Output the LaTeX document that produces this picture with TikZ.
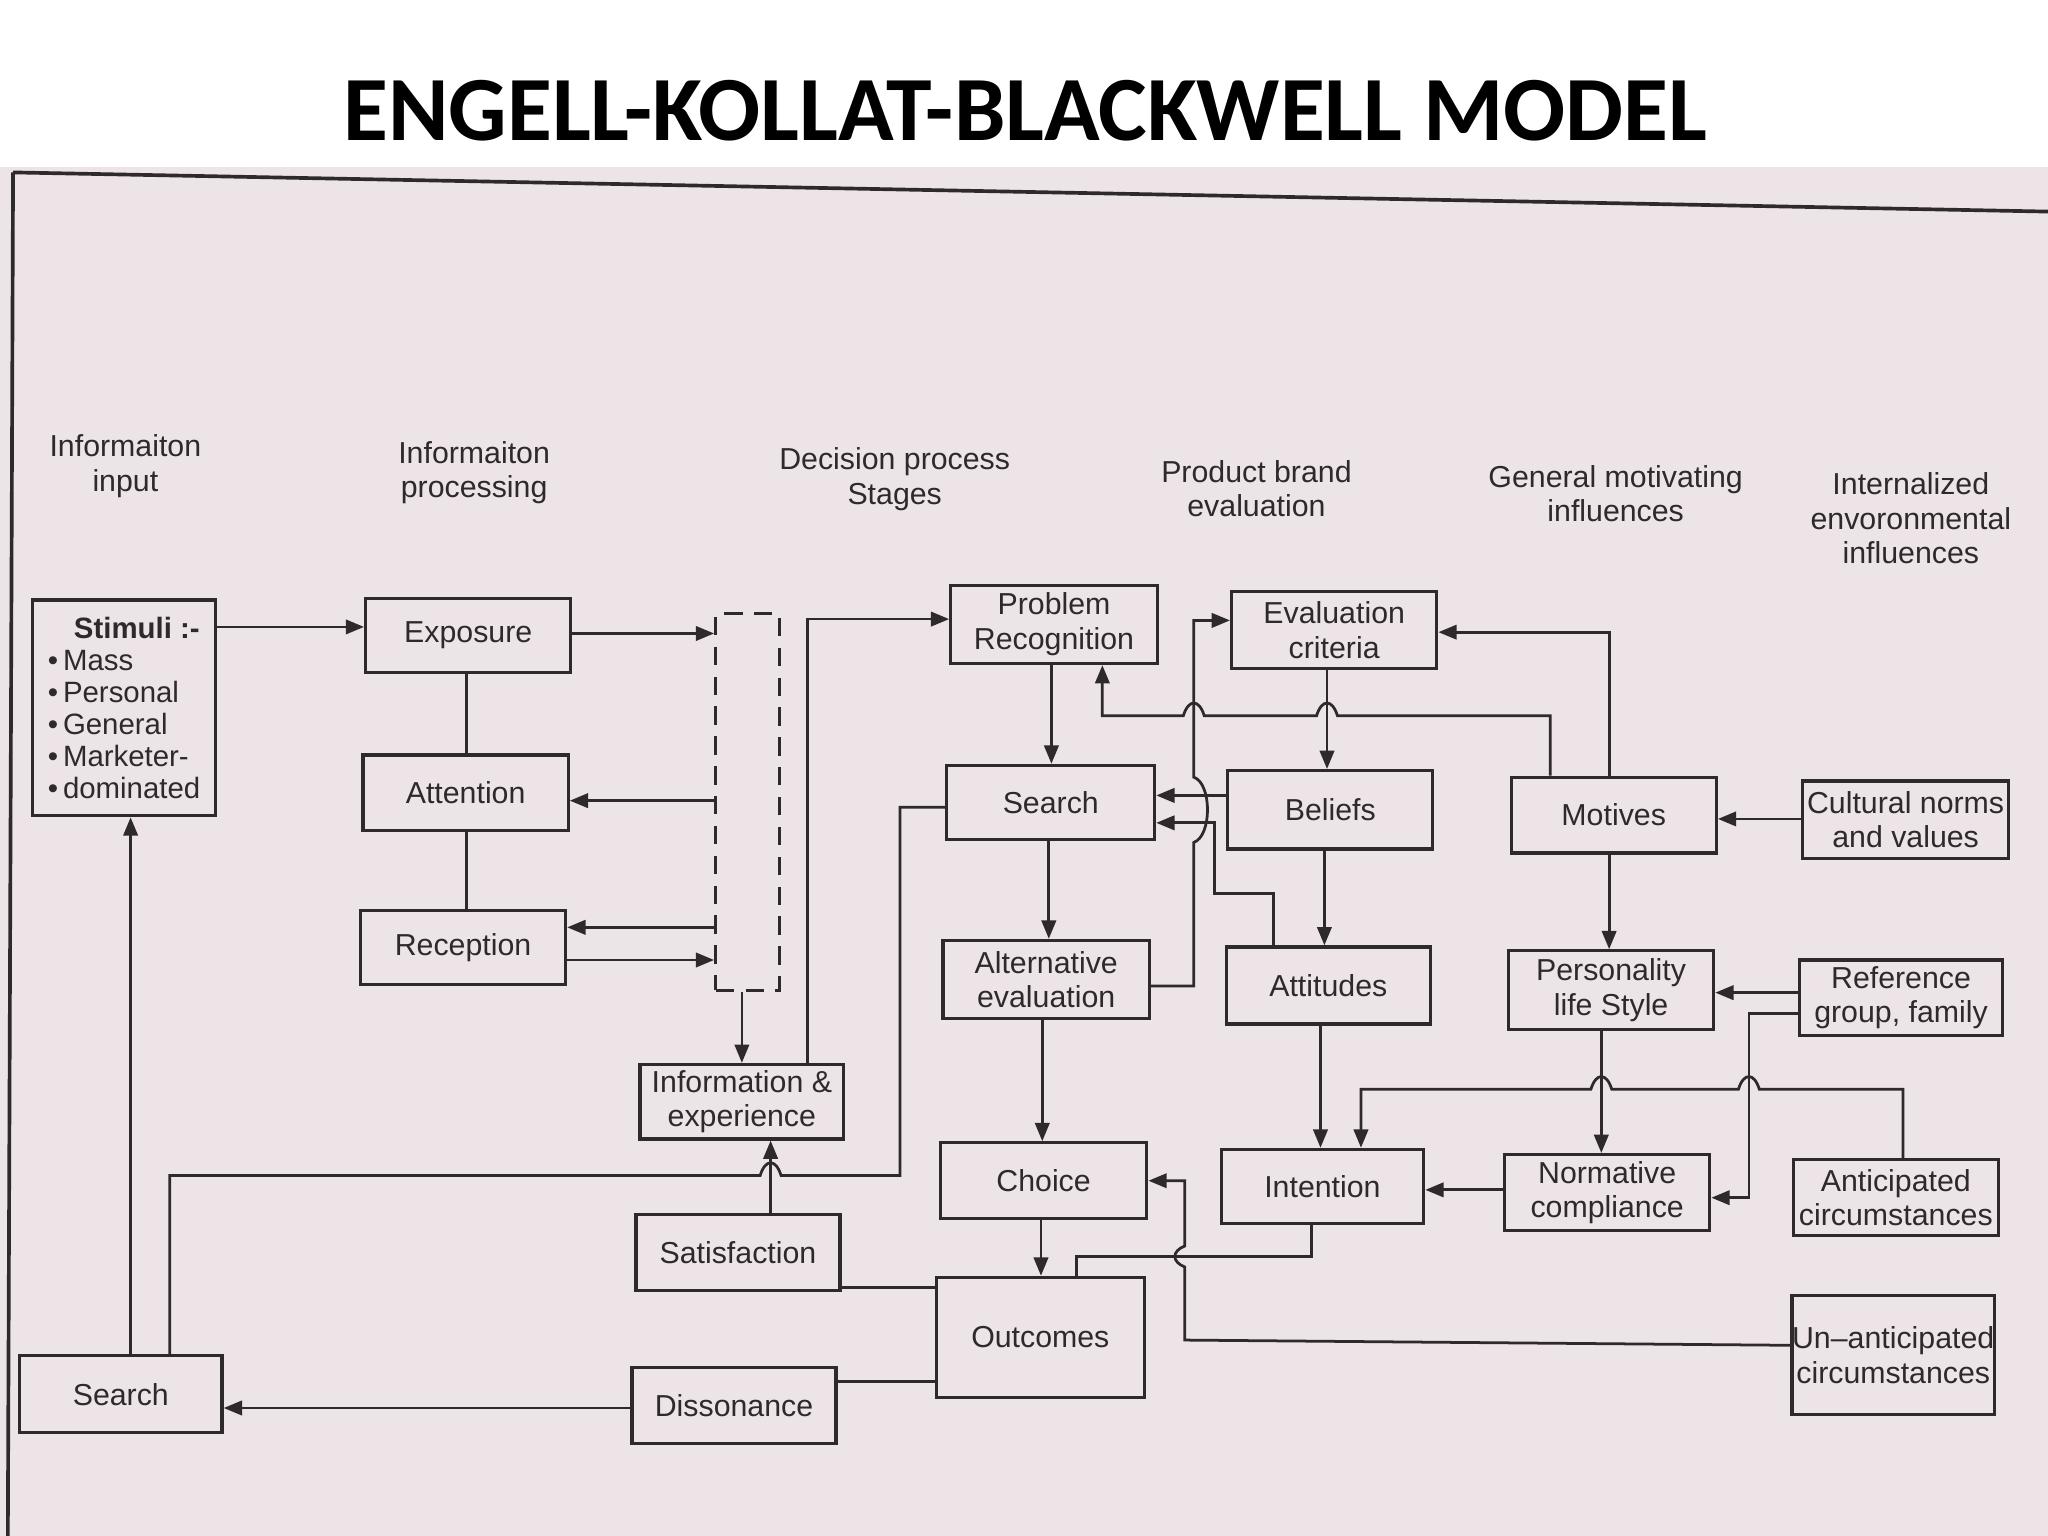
\documentclass[tikz,border=0pt]{standalone}
\usepackage{fontspec}
\setmainfont{Liberation Sans}
\newfontfamily\titlefont{Carlito}
\usetikzlibrary{arrows.meta}
\definecolor{paper}{HTML}{ECE4E7}
\definecolor{ink}{HTML}{2E2A2C}
\begin{document}
\begin{tikzpicture}[x=0.01cm,y=-0.01cm,
  box/.style={draw=ink,line width=0.7pt,inner sep=0pt,align=center,font=\fontsize{6.6}{7.5}\selectfont,text=ink},
  hdr/.style={align=center,font=\fontsize{6.6}{7.5}\selectfont,text=ink},
  con/.style={draw=ink,line width=0.6pt},
  arr/.style={con,-{Triangle[length=1.4mm,width=1.1mm]}}]
\useasboundingbox (0,0) rectangle (1568,1176);
\fill[white] (0,0) rectangle (1568,1176);
\fill[paper] (0,128) rectangle (1568,1176);
\draw[ink,line width=0.8pt] (10,132) -- (1568,162);
\draw[ink,line width=0.8pt] (10,132) -- (6,1176);
\node[font=\titlefont\bfseries\fontsize{20}{24}\selectfont] (title) at (785,85) {ENGELL-KOLLAT-BLACKWELL MODEL};
% headers
\node[hdr] (h1) at (96,357) {Informaiton\\input};
\node[hdr] (h2) at (363,362) {Informaiton\\processing};
\node[hdr] (h3) at (685,367) {Decision process\\Stages};
\node[hdr] (h4) at (962,374) {Product brand\\evaluation};
\node[hdr] (h5) at (1237,378) {General motivating\\influences};
\node[hdr] (h6) at (1463,397) {Internalized\\envoronmental\\influences};
% boxes
\node[box,minimum width=1.40cm,minimum height=1.65cm,align=left,font=\fontsize{6.4}{7.0}\selectfont] (stim) at (95,542) {\hspace*{0.2cm}\textbf{Stimuli :-}\\•\,Mass\\•\,Personal\\•\,General\\•\,Marketer-\\•\,dominated};
\node[box,minimum width=1.57cm,minimum height=0.57cm] (expo) at (358.5,486.5) {Exposure};
\node[box,minimum width=1.57cm,minimum height=0.58cm] (att) at (356.5,607) {Attention};
\node[box,minimum width=1.57cm,minimum height=0.57cm] (rec) at (354.5,725.5) {Reception};
\node[box,dashed,dash pattern=on 4pt off 2.5pt,minimum width=0.49cm,minimum height=2.88cm] (dash) at (572.5,614) {};
\node[box,minimum width=1.58cm,minimum height=0.60cm] (pr) at (807,478) {Problem\\Recognition};
\node[box,minimum width=1.59cm,minimum height=0.57cm] (srch) at (804.5,614.5) {Search};
\node[box,minimum width=1.58cm,minimum height=0.60cm] (alt) at (801,750) {Alternative\\evaluation};
\node[box,minimum width=1.56cm,minimum height=0.57cm] (info) at (568,843.5) {Information \&\\experience};
\node[box,minimum width=1.58cm,minimum height=0.58cm] (choice) at (799,904) {Choice};
\node[box,minimum width=1.56cm,minimum height=0.58cm] (sat) at (565,959) {Satisfaction};
\node[box,minimum width=1.59cm,minimum height=0.92cm] (out) at (796.5,1024) {Outcomes};
\node[box,minimum width=1.56cm,minimum height=0.58cm] (diss) at (562,1076) {Dissonance};
\node[box,minimum width=1.55cm,minimum height=0.59cm] (lsearch) at (92.5,1067.5) {Search};
\node[box,minimum width=1.57cm,minimum height=0.59cm] (eval) at (1021.5,482.5) {Evaluation\\criteria};
\node[box,minimum width=1.57cm,minimum height=0.60cm] (bel) at (1018.5,620) {Beliefs};
\node[box,minimum width=1.56cm,minimum height=0.59cm] (atti) at (1017,754.5) {Attitudes};
\node[box,minimum width=1.55cm,minimum height=0.57cm] (int) at (1012.5,908.5) {Intention};
\node[box,minimum width=1.57cm,minimum height=0.58cm] (mot) at (1235.5,624) {Motives};
\node[box,minimum width=1.57cm,minimum height=0.60cm] (pers) at (1233.5,758) {Personality\\life Style};
\node[box,minimum width=1.57cm,minimum height=0.58cm] (norm) at (1230.5,913) {Normative\\compliance};
\node[box,minimum width=1.58cm,minimum height=0.59cm] (cult) at (1459,627.5) {Cultural norms\\and values};
\node[box,minimum width=1.55cm,minimum height=0.58cm] (ref) at (1455.5,764) {Reference\\group, family};
\node[box,minimum width=1.57cm,minimum height=0.58cm] (ant) at (1451.5,917) {Anticipated\\circumstances};
\node[box,minimum width=1.55cm,minimum height=0.91cm] (unant) at (1449.5,1037.5) {Un--anticipated\\circumstances};
% connectors
\draw[arr] (stim.east|-0,480) -- (expo.west|-0,480);
\draw[arr] (expo.east|-0,485) -- (dash.west|-0,485);
\draw[con] (357,0|-expo.south) -- (357,0|-att.north);
\draw[con] (357,0|-att.south) -- (357,0|-rec.north);
\draw[arr] (dash.west|-0,613) -- (att.east|-0,613);
\draw[arr] (dash.west|-0,710) -- (rec.east|-0,710);
\draw[arr] (rec.east|-0,735) -- (dash.west|-0,735);
\draw[arr] (568,0|-dash.south) -- (568,0|-info.north);
\draw[arr] (618,0|-info.north) -- (618,474) -- (pr.west|-0,474);
\draw[con] (srch.west|-0,618) -- (689,618) -- (689,900) -- (598,900) .. controls (594,887) and (586,887) .. (582,900) -- (130,900) -- (130,0|-lsearch.north);
\draw[arr] (100,0|-lsearch.north) -- (100,0|-stim.south);
\draw[arr] (805,0|-pr.south) -- (805,0|-srch.north);
\draw[arr] (803,0|-srch.south) -- (803,0|-alt.north);
\draw[arr] (798,0|-alt.south) -- (798,0|-choice.north);
\draw[arr] (797,0|-choice.south) -- (797,0|-out.north);
\draw[arr] (590,0|-sat.north) -- (590,0|-info.south);
\draw[con] (sat.east|-0,986) -- (out.west|-0,986);
\draw[con] (diss.east|-0,1058) -- (out.west|-0,1058);
\draw[arr] (diss.west|-0,1078) -- (lsearch.east|-0,1078);
\draw[con] (1004,0|-int.south) -- (1004,962) -- (824,962) -- (824,0|-out.north);
\draw[arr] (unant.west|-0,1030) -- (907,1026) -- (907,970) .. controls (897,966) and (897,958) .. (907,954) -- (907,904) -- (choice.east|-0,904);
\draw[arr] (norm.west|-0,911) -- (int.east|-0,911);
\draw[arr] (bel.west|-0,609) -- (srch.east|-0,609);
\draw[arr] (975,0|-atti.north) -- (975,684) -- (930,684) -- (930,630) -- (srch.east|-0,630);
\draw[arr] (alt.east|-0,755) -- (914,755) -- (914,645) .. controls (928,640) and (928,600) .. (914,595) -- (914,475) -- (eval.west|-0,475);
\draw[arr] (1187,0|-mot.north) -- (1187,548) -- (1024,548) .. controls (1020,535) and (1012,535) .. (1008,548) -- (922,548) .. controls (918,535) and (910,535) .. (906,548) -- (844,548) -- (844,0|-pr.south);
\draw[arr] (1232,0|-mot.north) -- (1232,484) -- (eval.east|-0,484);
\draw[arr] (1016,0|-eval.south) -- (1016,0|-bel.north);
\draw[arr] (1014,0|-bel.south) -- (1014,0|-atti.north);
\draw[arr] (1011,0|-atti.south) -- (1011,0|-int.north);
\draw[arr] (cult.west|-0,627) -- (mot.east|-0,627);
\draw[arr] (1232,0|-mot.south) -- (1232,0|-pers.north);
\draw[arr] (ref.west|-0,760) -- (pers.east|-0,760);
\draw[arr] (ref.west|-0,776) -- (1339,776) -- (1339,917) -- (norm.east|-0,917);
\draw[arr] (1226,0|-pers.south) -- (1226,0|-norm.north);
\draw[arr] (1457,0|-ant.north) -- (1457,834) -- (1347,834) .. controls (1343,821) and (1335,821) .. (1331,834) -- (1234,834) .. controls (1230,821) and (1222,821) .. (1218,834) -- (1042,834) -- (1042,0|-int.north);
\end{tikzpicture}
\end{document}
